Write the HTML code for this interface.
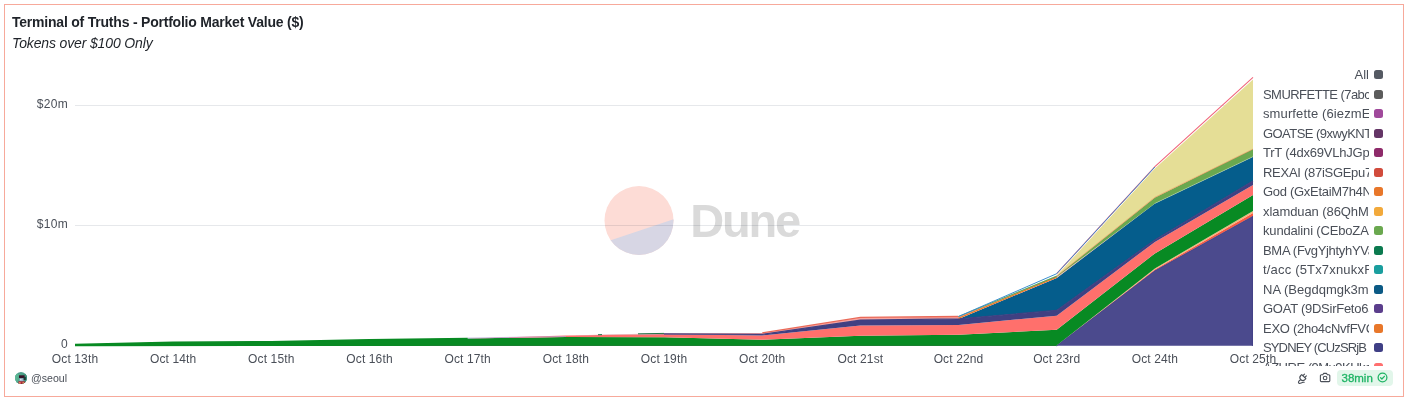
<!DOCTYPE html>
<html><head><meta charset="utf-8"><title>Terminal of Truths - Portfolio Market Value ($)</title>
<style>
html,body{margin:0;padding:0;background:#fff;}
body{width:1410px;height:403px;position:relative;overflow:hidden;font-family:"Liberation Sans",sans-serif;color:#4a4f58;}
.card{position:absolute;left:4px;top:4px;width:1398px;height:391px;border:1px solid #f7a99b;background:#fff;}
.title{position:absolute;left:12px;top:14px;font-size:14px;line-height:16px;font-weight:bold;color:#1f2329;white-space:nowrap;letter-spacing:-0.215px;}
.sub{position:absolute;left:12px;top:34.6px;font-size:14px;line-height:16px;font-style:italic;color:#1f2329;white-space:nowrap;letter-spacing:-0.14px;}
svg.chart{position:absolute;left:0;top:0;}
.yt{position:absolute;left:0;width:68px;text-align:right;font-size:12px;line-height:14px;color:#4a4f58;letter-spacing:0.3px;}
.xt{position:absolute;top:352px;width:80px;text-align:center;font-size:12px;line-height:14px;color:#4a4f58;white-space:nowrap;letter-spacing:0.13px;}
.legend{position:absolute;left:1263px;top:65px;width:125px;height:301px;overflow:hidden;}
.lr{position:absolute;left:0;width:125px;height:19px;}
.lt{position:absolute;left:0;top:0;width:106px;height:19px;line-height:19px;font-size:13px;overflow:hidden;white-space:nowrap;color:#4a4f58;}
.lr.all .lt{text-align:right;}
.lr i{position:absolute;left:111px;top:5px;width:9px;height:9px;border-radius:2.5px;}
.wm{position:absolute;left:692px;top:193px;font-size:46px;line-height:54px;font-weight:bold;color:#d9d9d9;letter-spacing:-2px;}
.user{position:absolute;left:31px;top:371px;font-size:10.6px;line-height:14px;color:#4a4f58;}
.av{position:absolute;left:15px;top:372px;width:12px;height:12px;border-radius:50%;overflow:hidden;background:#4fa08c;}
.badge{position:absolute;left:1337px;top:370px;width:56px;height:16px;border-radius:4px;background:#e2f6ea;}
.badge span{position:absolute;left:4.5px;top:1px;font-size:11.5px;line-height:14px;color:#1eb464;-webkit-text-stroke:0.3px #1eb464;}
</style></head><body>
<div class="card"></div>
<div class="title">Terminal of Truths - Portfolio Market Value ($)</div>
<div class="sub">Tokens over $100 Only</div>
<svg class="chart" width="1410" height="403" viewBox="0 0 1410 403">
<defs><clipPath id="wmc"><circle cx="639" cy="220.5" r="34.5"/></clipPath>
<linearGradient id="avg" x1="0" y1="0" x2="1" y2="0.3"><stop offset="0" stop-color="#62c09a"/><stop offset="1" stop-color="#3c8a78"/></linearGradient></defs>
<rect x="75" y="105" width="1178" height="1" fill="#e6e8eb"/>
<rect x="75" y="225" width="1178" height="1" fill="#e6e8eb"/>
<g style="mix-blend-mode:multiply">
<circle cx="639" cy="220.5" r="34.5" fill="#fddcd6"/>
<polygon points="600,243.8 673.47,219.18 700,219 700,300 580,300" fill="#d7d6e4" clip-path="url(#wmc)"/>
<text x="690.2" y="237.4" font-family="Liberation Sans, sans-serif" font-size="47" font-weight="bold" letter-spacing="-2.2" fill="#dadada">Dune</text>
</g>
<path d="M75.0,345.5 L173.2,345.5 L271.3,345.5 L369.5,345.5 L467.7,345.5 L565.9,345.5 L664.0,345.5 L762.2,345.5 L860.4,345.5 L958.5,345.5 L1056.7,345.5 L1154.9,270.4 L1253.0,215.9 L1253.0,345.8 L1154.9,345.8 L1056.7,345.8 L958.5,345.8 L860.4,345.8 L762.2,345.8 L664.0,345.8 L565.9,345.8 L467.7,345.8 L369.5,345.8 L271.3,345.8 L173.2,345.8 L75.0,345.8Z" fill="#4b4a8d"/>
<path d="M75.0,345.5 L173.2,345.5 L271.3,345.5 L369.5,345.5 L467.7,345.5 L565.9,345.5 L664.0,345.5 L762.2,345.5 L860.4,345.5 L958.5,345.5 L1056.7,345.5 L1154.9,269.4 L1253.0,212.9 L1253.0,215.9 L1154.9,270.4 L1056.7,345.5 L958.5,345.5 L860.4,345.5 L762.2,345.5 L664.0,345.5 L565.9,345.5 L467.7,345.5 L369.5,345.5 L271.3,345.5 L173.2,345.5 L75.0,345.5Z" fill="#f95a43"/>
<path d="M75.0,345.5 L173.2,345.5 L271.3,345.5 L369.5,345.5 L467.7,345.5 L565.9,345.5 L664.0,345.5 L762.2,345.5 L860.4,345.5 L958.5,345.5 L1056.7,345.5 L1154.9,268.4 L1253.0,210.9 L1253.0,212.9 L1154.9,269.4 L1056.7,345.5 L958.5,345.5 L860.4,345.5 L762.2,345.5 L664.0,345.5 L565.9,345.5 L467.7,345.5 L369.5,345.5 L271.3,345.5 L173.2,345.5 L75.0,345.5Z" fill="#f6b47a"/>
<path d="M75.0,344.6 L173.2,342.3 L271.3,341.8 L369.5,339.8 L467.7,338.6 L565.9,336.9 L664.0,337.2 L762.2,339.8 L860.4,335.8 L958.5,334.8 L1056.7,329.8 L1154.9,253.4 L1253.0,194.9 L1253.0,210.9 L1154.9,268.4 L1056.7,345.5 L958.5,345.5 L860.4,345.5 L762.2,345.5 L664.0,345.5 L565.9,345.5 L467.7,345.5 L369.5,345.5 L271.3,345.5 L173.2,345.5 L75.0,345.5Z" fill="#088a23"/>
<path d="M75.0,344.6 L173.2,342.3 L271.3,341.8 L369.5,339.8 L467.7,338.6 L565.9,335.5 L664.0,334.2 L762.2,335.4 L860.4,325.4 L958.5,324.9 L1056.7,315.7 L1154.9,241.9 L1253.0,184.9 L1253.0,194.9 L1154.9,253.4 L1056.7,329.8 L958.5,334.8 L860.4,335.8 L762.2,339.8 L664.0,337.2 L565.9,336.9 L467.7,338.6 L369.5,339.8 L271.3,341.8 L173.2,342.3 L75.0,344.6Z" fill="#ff706c"/>
<path d="M75.0,344.6 L173.2,342.3 L271.3,341.8 L369.5,339.8 L467.7,338.6 L565.9,335.5 L664.0,333.9 L762.2,334.4 L860.4,320.1 L958.5,318.9 L1056.7,310.4 L1154.9,239.9 L1253.0,181.0 L1253.0,184.9 L1154.9,241.9 L1056.7,315.7 L958.5,324.9 L860.4,325.4 L762.2,335.4 L664.0,334.2 L565.9,335.5 L467.7,338.6 L369.5,339.8 L271.3,341.8 L173.2,342.3 L75.0,344.6Z" fill="#404082"/>
<path d="M75.0,344.6 L173.2,342.3 L271.3,341.8 L369.5,339.8 L467.7,338.6 L565.9,335.5 L664.0,333.9 L762.2,334.4 L860.4,320.1 L958.5,318.9 L1056.7,277.9 L1154.9,203.4 L1253.0,156.7 L1253.0,181.0 L1154.9,239.9 L1056.7,310.4 L958.5,318.9 L860.4,320.1 L762.2,334.4 L664.0,333.9 L565.9,335.5 L467.7,338.6 L369.5,339.8 L271.3,341.8 L173.2,342.3 L75.0,344.6Z" fill="#055d8c"/>
<path d="M75.0,344.6 L173.2,342.3 L271.3,341.8 L369.5,339.8 L467.7,338.6 L565.9,335.5 L664.0,333.3 L762.2,332.9 L860.4,317.4 L958.5,316.5 L1056.7,277.1 L1154.9,203.4 L1253.0,156.7 L1253.0,156.7 L1154.9,203.4 L1056.7,277.9 L958.5,318.9 L860.4,320.1 L762.2,334.4 L664.0,333.9 L565.9,335.5 L467.7,338.6 L369.5,339.8 L271.3,341.8 L173.2,342.3 L75.0,344.6Z" fill="#f8a4a0"/>
<path d="M75.0,344.6 L173.2,342.3 L271.3,341.8 L369.5,339.8 L467.7,338.6 L565.9,335.5 L664.0,333.3 L762.2,332.9 L860.4,317.4 L958.5,316.5 L1056.7,276.1 L1154.9,197.4 L1253.0,149.1 L1253.0,156.7 L1154.9,203.4 L1056.7,277.1 L958.5,316.5 L860.4,317.4 L762.2,332.9 L664.0,333.3 L565.9,335.5 L467.7,338.6 L369.5,339.8 L271.3,341.8 L173.2,342.3 L75.0,344.6Z" fill="#6aa84f"/>
<path d="M75.0,344.6 L173.2,342.3 L271.3,341.8 L369.5,339.8 L467.7,338.6 L565.9,335.5 L664.0,333.3 L762.2,332.9 L860.4,317.4 L958.5,316.5 L1056.7,275.6 L1154.9,168.5 L1253.0,79.4 L1253.0,149.1 L1154.9,197.4 L1056.7,276.1 L958.5,316.5 L860.4,317.4 L762.2,332.9 L664.0,333.3 L565.9,335.5 L467.7,338.6 L369.5,339.8 L271.3,341.8 L173.2,342.3 L75.0,344.6Z" fill="#e5de96"/>
<rect x="75" y="345.0" width="981.7" height="0.8" fill="#06741c"/>
<rect x="1251.9" y="216.5" width="1.1" height="129.3" fill="#444287"/>
<path d="M75.0,344.6 L173.2,342.3 L271.3,341.8 L369.5,339.8 L467.7,338.6" fill="none" stroke="#088a23" stroke-width="1.6"/>
<polygon points="75,344.5 75,346.3 430,345.8 430,344.5" fill="#088a23"/>
<path d="M467.7,338.6 L565.9,336.9" fill="none" stroke="#b8a0d8" stroke-width="0.7" transform="translate(0,-0.5)"/>
<path d="M598,334.7 L602,334.6 M638,333.8 L664,333.4" fill="none" stroke="#0b6a3a" stroke-width="0.9"/>
<path d="M664.0,333.9 L762.2,334.4 L860.4,320.1 L958.5,318.9 L1056.7,310.4 L1154.9,239.9 L1253.0,181.0" fill="none" stroke="#404082" stroke-width="1.1"/>
<path d="M1056.7,345.5 L1154.9,270.4 L1253.0,215.9" fill="none" stroke="#444287" stroke-width="0.8" transform="translate(0,0.4)"/>
<path d="M762.2,332.9 L860.4,317.4 L958.5,316.5" fill="none" stroke="#ea6a58" stroke-width="1.3"/>
<path d="M958.5,318.9 L1056.7,277.9" fill="none" stroke="#e87a1f" stroke-width="1.1" transform="translate(0,-0.7)"/>
<path d="M958.5,316.5 L1056.7,276.1" fill="none" stroke="#3a9a5a" stroke-width="0.8"/>
<path d="M1056.7,276.1 L1154.9,197.4 L1253.0,149.1" fill="none" stroke="#f08a50" stroke-width="0.6"/>
<path d="M1154.9,203.4 L1253.0,156.7" fill="none" stroke="#cfe0c8" stroke-width="0.4"/>
<path d="M1056.7,273.7 L1154.9,166.6 L1253.0,77.3" fill="none" stroke="#f0647a" stroke-width="1.05"/>
<path d="M958.5,316.5 L1056.7,273.7 L1154.9,167.0" fill="none" stroke="#3a8fd0" stroke-width="1"/>
<!-- plug icon -->
<g fill="none" stroke="#4a4f58" stroke-width="1.1" stroke-linecap="round" stroke-linejoin="round">
<g transform="translate(1302.7,377.7) rotate(45)">
<path d="M-2.9,-1.6 H2.9 V-0.2 A2.9,2.9 0 0 1 -2.9,-0.2 Z"/>
<path d="M-1.3,-1.6 V-3.9 M1.3,-1.6 V-3.9"/>
</g>
<path d="M1300.7,379.8 C1298.9,380.6 1297.7,382.5 1299,383.2 C1300.5,384 1301.6,381.9 1304.2,382.3"/>
</g>
<!-- camera icon -->
<g fill="none" stroke="#4a4f58" stroke-width="1.1" stroke-linejoin="round">
<path d="M1321.3,374.8 H1322.8 L1323.6,373.4 H1326.6 L1327.4,374.8 H1328.9 A0.9,0.9 0 0 1 1329.8,375.7 V380.7 A0.9,0.9 0 0 1 1328.9,381.6 H1321.3 A0.9,0.9 0 0 1 1320.4,380.7 V375.7 A0.9,0.9 0 0 1 1321.3,374.8Z"/>
<circle cx="1325.1" cy="378" r="1.8"/>
</g>
</svg>
<div class="yt" style="top:97px">$20m</div>
<div class="yt" style="top:217px">$10m</div>
<div class="yt" style="top:337.3px">0</div>
<div class="xt" style="left:35.0px">Oct 13th</div>
<div class="xt" style="left:133.2px">Oct 14th</div>
<div class="xt" style="left:231.3px">Oct 15th</div>
<div class="xt" style="left:329.5px">Oct 16th</div>
<div class="xt" style="left:427.7px">Oct 17th</div>
<div class="xt" style="left:525.9px">Oct 18th</div>
<div class="xt" style="left:624.0px">Oct 19th</div>
<div class="xt" style="left:722.2px">Oct 20th</div>
<div class="xt" style="left:820.4px">Oct 21st</div>
<div class="xt" style="left:918.5px">Oct 22nd</div>
<div class="xt" style="left:1016.7px">Oct 23rd</div>
<div class="xt" style="left:1114.9px">Oct 24th</div>
<div class="xt" style="left:1213.0px">Oct 25th</div>
<div class="legend">
<div class="lr all" style="top:0.0px"><span class="lt" style="letter-spacing:0px">All</span><i style="background:#555a63"></i></div>
<div class="lr" style="top:19.5px"><span class="lt" style="letter-spacing:-0.56px">SMURFETTE (7abcdefghij</span><i style="background:#5c5c5c"></i></div>
<div class="lr" style="top:39.0px"><span class="lt" style="letter-spacing:0.12px">smurfette (6iezmEabcdef</span><i style="background:#a0499b"></i></div>
<div class="lr" style="top:58.5px"><span class="lt" style="letter-spacing:-0.55px">GOATSE (9xwyKNTabcdef</span><i style="background:#643566"></i></div>
<div class="lr" style="top:78.0px"><span class="lt" style="letter-spacing:-0.21px">TrT (4dx69VLhJGpabcde</span><i style="background:#8e2a6a"></i></div>
<div class="lr" style="top:97.5px"><span class="lt" style="letter-spacing:-0.28px">REXAI (87iSGEpu7abcdef</span><i style="background:#d14b3c"></i></div>
<div class="lr" style="top:117.0px"><span class="lt" style="letter-spacing:-0.3px">God (GxEtaiM7h4Nabcdef</span><i style="background:#e8772a"></i></div>
<div class="lr" style="top:136.5px"><span class="lt" style="letter-spacing:-0.08px">xlamduan (86QhMabcdef</span><i style="background:#f2a93b"></i></div>
<div class="lr" style="top:156.0px"><span class="lt" style="letter-spacing:-0.16px">kundalini (CEboZAabcde</span><i style="background:#6aa84f"></i></div>
<div class="lr" style="top:175.5px"><span class="lt" style="letter-spacing:-0.3px">BMA (FvgYjhtyhYVabcdef</span><i style="background:#0b7a4f"></i></div>
<div class="lr" style="top:195.0px"><span class="lt" style="letter-spacing:0.18px">t/acc (5Tx7xnukxRabcdef</span><i style="background:#1a9e9e"></i></div>
<div class="lr" style="top:214.5px"><span class="lt" style="letter-spacing:0.01px">NA (Begdqmgk3mabcdef</span><i style="background:#0b5a85"></i></div>
<div class="lr" style="top:234.0px"><span class="lt" style="letter-spacing:-0.26px">GOAT (9DSirFeto6abcdef</span><i style="background:#5b3e8c"></i></div>
<div class="lr" style="top:253.5px"><span class="lt" style="letter-spacing:-0.28px">EXO (2ho4cNvfFVCabcdef</span><i style="background:#e8772a"></i></div>
<div class="lr" style="top:273.0px"><span class="lt" style="letter-spacing:-0.86px">SYDNEY (CUzSRjB</span><i style="background:#3f3f85"></i></div>
<div class="lr" style="top:292.5px"><span class="lt" style="letter-spacing:-0.5px">AZURE (9Mu9KUkabcdef</span><i style="background:#ff6f6f"></i></div>
</div>
<div class="av"><svg width="12" height="12" viewBox="0 0 12 12"><rect width="12" height="12" fill="#4fa08c"/><rect width="12" height="12" fill="url(#avg)"/><rect x="4" y="1.3" width="5.6" height="2.8" fill="#3a1228"/><rect x="8.4" y="3" width="2.4" height="3" fill="#1f3a34"/><rect x="4.6" y="4.3" width="3.8" height="2.8" fill="#9fb2cc"/><rect x="5.2" y="5" width="1.2" height="1.2" fill="#e8eef8"/><rect x="3.4" y="7.3" width="6.4" height="4.7" fill="#b4283c"/><rect x="4.2" y="8" width="1.3" height="2.2" fill="#f09a70"/><rect x="7.6" y="8.2" width="1.2" height="2" fill="#e8c060"/><rect x="5.8" y="9.6" width="1.6" height="2.4" fill="#6a1436"/></svg></div>
<div class="user">@seoul</div>
<div class="badge"><span>38min</span>
<svg style="position:absolute;left:40.4px;top:2.4px" width="11" height="11" viewBox="0 0 11 11"><circle cx="5.5" cy="5.5" r="4.4" fill="none" stroke="#1eb464" stroke-width="1.25"/><path d="M3.6,5.7 L4.9,7 L7.4,4.3" fill="none" stroke="#1eb464" stroke-width="1.25" stroke-linecap="round" stroke-linejoin="round"/></svg>
</div>
</body></html>
